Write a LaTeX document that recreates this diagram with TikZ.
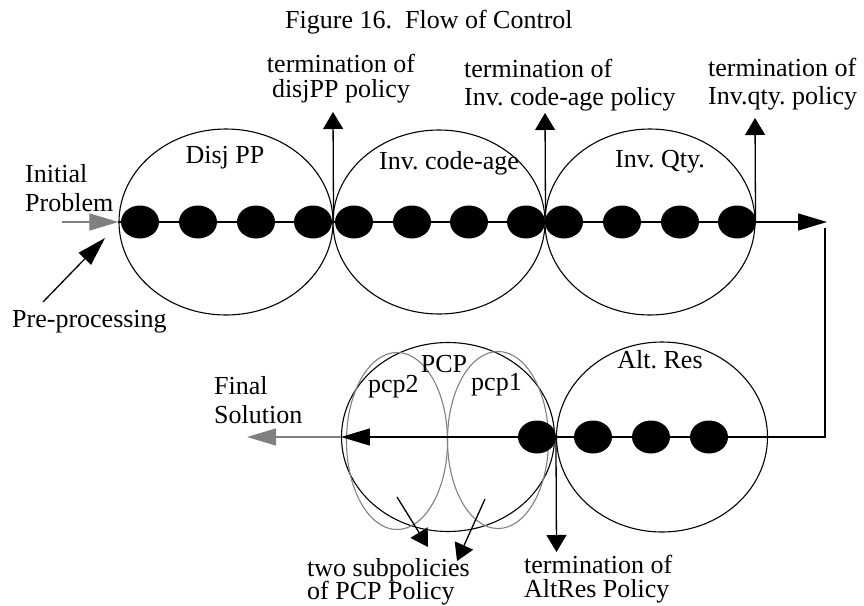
\documentclass[tikz,border=0pt]{standalone}
\usepackage{fontspec}
\setmainfont{Liberation Serif}
\usetikzlibrary{shapes.geometric,arrows.meta}
\frenchspacing

\begin{document}
\begin{tikzpicture}[x=1pt, y=-1pt,
  font=\fontsize{26}{28}\selectfont,
  policy/.style={draw, ellipse, line width=1.1pt, inner sep=0pt},
  subpol/.style={draw=gray, ellipse, line width=1.1pt, inner sep=0pt,
    minimum width=101, minimum height=177},
  dot/.style={fill=black, ellipse, inner sep=0pt,
    minimum width=38, minimum height=33},
  flow/.style={line width=1.3pt},
  longtip/.style={-{Triangle[length=29pt,width=17pt]}},
  shorttip/.style={-{Triangle[length=17pt,width=20pt]}},
  lbl/.style={inner sep=0pt, anchor=base west, align=left},
]
  \useasboundingbox (0,0) rectangle (864,605);

  % -------------------------------------------------------
  % pixel grid: x to the right, y downwards
  % top row of policies on y = 222, bottom row on y = 437
  % two-line labels sit on the baseline of their last line
  % -------------------------------------------------------

  % Title
  \node[lbl] (title) at (285,28) {Figure 16.\ \ Flow of Control};

  % Policies, top row
  \node[policy, minimum width=214, minimum height=186] (disjpp)  at (226,222) {};
  \node[policy, minimum width=212, minimum height=184] (codeage) at (439,222) {};
  \node[policy, minimum width=210, minimum height=186] (invqty)  at (650,222) {};

  % Policies, bottom row
  \node[policy, minimum width=211, minimum height=190] (altres) at (662,437) {};
  \node[policy, minimum width=213, minimum height=189] (pcp)    at (448,437) {};
  \node[subpol] (pcp2) at (397,441) {};
  \node[subpol] (pcp1) at (498,440) {};

  % Policy names
  \node[lbl, anchor=base] (disjlbl) at (225,163) {Disj PP};
  \node[lbl, anchor=base] (codelbl) at (449,169) {Inv. code-age};
  \node[lbl, anchor=base] (qtylbl)  at (660,167) {Inv. Qty.};
  \node[lbl, anchor=base] (altlbl)  at (660,368) {Alt. Res};
  \node[lbl, anchor=base] (pcplbl)  at (444,372) {PCP};
  \node[lbl] (pcp2lbl) at (368,392) {pcp2};
  \node[lbl] (pcp1lbl) at (471,390) {pcp1};

  % Free ends of the connectors
  \coordinate (turn)     at (827,222);
  \coordinate (turntop)  at (825,228);
  \coordinate (corner)   at (825,437);
  \coordinate (finalend) at (247,437);
  \coordinate (initfrom) at (62,222);
  \coordinate (prefrom)  at (43,302);
  \coordinate (preto)    at (105,238);
  \coordinate (up1)      at (333,112);
  \coordinate (up2)      at (545,113);
  \coordinate (up3)      at (755,118);
  \coordinate (down)     at (556.5,552);
  \coordinate (s2from)   at (397,497);
  \coordinate (s2to)     at (428,547);
  \coordinate (s1from)   at (485,499);
  \coordinate (s1to)     at (457,561);

  % Flow through the policies
  \draw[flow, longtip] (disjpp.west) -- (turn);
  \draw[flow, longtip] (turntop) -- (corner) -- (pcp.west);
  \draw[flow, gray, longtip] (pcp.west) -- (finalend);

  % Input arrows
  \draw[flow, gray, longtip] (initfrom) -- (disjpp.west);
  \draw[flow, longtip] (prefrom) -- (preto);

  % Terminations
  \draw[flow, shorttip] (disjpp.east)  -- (up1);
  \draw[flow, shorttip] (codeage.east) -- (up2);
  \draw[flow, shorttip] (invqty.east)  -- (up3);
  \draw[flow, shorttip] (altres.west)  -- (down);

  % Subpolicy pointers
  \draw[flow, shorttip] (s2from) -- (s2to);
  \draw[flow, shorttip] (s1from) -- (s1to);

  % Steps (dots)
  \foreach \i/\x in {1/140, 2/198, 3/256, 4/313, 5/354, 6/412,
                     7/469, 8/526, 9/564, 10/622, 11/680, 12/737}
    \node[dot] (d\i) at (\x,222) {};
  \foreach \i/\x in {1/537, 2/593, 3/651, 4/709}
    \node[dot] (r\i) at (\x,437) {};

  % Annotations
  \node[lbl, anchor=base, align=center] (term1) at (341,97)
    {termination of\\[-3pt]disjPP policy};
  \node[lbl] (term2) at (464,105) {termination of\\Inv. code-age policy};
  \node[lbl] (term3) at (708,104) {termination of\\Inv.qty. policy};
  \node[lbl] (initlbl)  at (25,211)  {Initial\\[1pt]Problem};
  \node[lbl] (prelbl)   at (12,327)  {Pre-processing};
  \node[lbl] (finallbl) at (214,423) {Final\\[1pt]Solution};
  \node[lbl] (sublbl)   at (307,599) {two subpolicies\\[-5pt]of PCP Policy};
  \node[lbl] (termalt)  at (524,597) {termination of\\[-4pt]AltRes Policy};

\end{tikzpicture}
\end{document}
